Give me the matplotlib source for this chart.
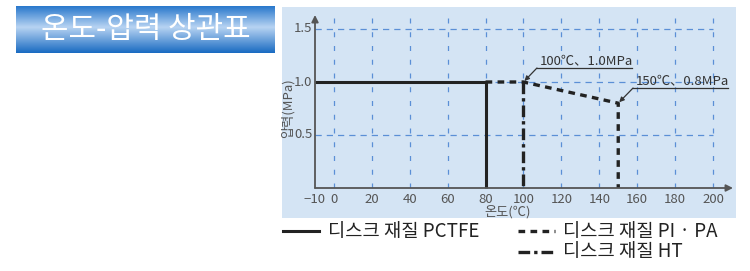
import matplotlib.pyplot as plt
import numpy as np

plt.rcParams['font.family'] = ['Noto Sans CJK KR', 'DejaVu Sans']

# data
temp_pctfe = [-10, 80, 80]
press_pctfe = [1.0, 1.0, 0.0]
temp_pipa = [80, 100, 150, 150]
press_pipa = [1.0, 1.0, 0.8, 0.0]
temp_ht = [100, 100]
press_ht = [1.0, 0.0]
x_ticks = [-10, 0, 20, 40, 60, 80, 100, 120, 140, 160, 180, 200]
y_ticks = [0.5, 1.0, 1.5]
y_ticklabels = ["0.5", "1.0", "1.5"]
series_labels = ["디스크 재질 PCTFE", "디스크 재질 PI · PA", "디스크 재질 HT"]
notes = [("100℃、1.0MPa", 100, 1.0), ("150℃、0.8MPa", 150, 0.8)]

W, H = 750, 271
fig = plt.figure(figsize=(7.5, 2.71), dpi=100)

def fx(px):
    return px / W

def fy(py):
    return 1 - py / H

# light blue panel
bg = fig.add_axes([fx(282), fy(218), fx(736) - fx(282), fy(7) - fy(218)], zorder=-5)
bg.set_facecolor('#d4e4f4')
bg.set_xticks([])
bg.set_yticks([])
for s in bg.spines.values():
    s.set_visible(False)

# title box with gradient
tax = fig.add_axes([fx(16), fy(53), fx(275) - fx(16), fy(6) - fy(53)])
t = np.linspace(0, 1, 100)
top = np.array([0.16, 0.47, 0.80])
mid = np.array([0.72, 0.83, 0.95])
bot = np.array([0.10, 0.42, 0.76])
cols = []
for v in t:
    if v < 0.45:
        a = v / 0.45
        cols.append(top * (1 - a) + mid * a)
    else:
        a = (v - 0.45) / 0.55
        cols.append(mid * (1 - a) + bot * a)
grad = np.array(cols)[:, None, :]
tax.imshow(grad, aspect='auto', extent=[0, 1, 0, 1])
tax.set_axis_off()
tax.text(0.5, 0.5, "온도-압력 상관표", color='white', fontsize=21.5, ha='center', va='center',
         fontweight='light')

# chart axes
x0, x1 = -10, 200 + (733 - 713) / 1.895
y1 = (188 - 15) / 106.0
ax = fig.add_axes([fx(315), fy(188), fx(733) - fx(315), fy(15) - fy(188)])
ax.set_xlim(x0, x1)
ax.set_ylim(0, y1)
ax.set_facecolor('none')
for s in ax.spines.values():
    s.set_visible(False)
ax.set_xticks([])
ax.set_yticks([])

grid_c = '#5b8fd6'
ax.vlines([v for v in x_ticks if v >= 0], 0, y1, colors=grid_c, linestyles=(0, (4, 7)), lw=0.9)
ax.hlines(y_ticks, -10, 200, colors=grid_c, linestyles=(0, (5, 4)), lw=0.9)

# axes arrows
ax.annotate('', xy=(x1, 0), xytext=(-10, 0),
            arrowprops=dict(arrowstyle='-|>', color='#555555', lw=1.3, mutation_scale=10,
                            shrinkA=0, shrinkB=0), annotation_clip=False)
ax.annotate('', xy=(-10, y1), xytext=(-10, 0),
            arrowprops=dict(arrowstyle='-|>', color='#555555', lw=1.3, mutation_scale=10,
                            shrinkA=0, shrinkB=0), annotation_clip=False)

# series
ax.plot(temp_pctfe, press_pctfe, color='#222222', lw=2.2, solid_capstyle='butt', clip_on=False)
ax.plot(temp_pipa, press_pipa, color='#222222', lw=2.4, linestyle=(0, (2, 1.6)), clip_on=False)
ax.plot(temp_ht, press_ht, color='#222222', lw=2.4, linestyle=(0, (3.5, 1.2, 1, 1.2)), clip_on=False)

# tick labels
lab_c = '#555555'
for v in x_ticks:
    ax.text(v, -0.05, str(v).replace('-', '−'), ha='center', va='top', fontsize=9.5, color=lab_c)
for v, s in zip(y_ticks, y_ticklabels):
    ax.text(-11.5, v, s, ha='right', va='center', fontsize=9.5, color=lab_c)

fig.text(fx(508), fy(212), "온도(℃)", ha='center', va='center', fontsize=9.5, color=lab_c)
fig.text(fx(288), fy(108), "압력(MPa)", ha='center', va='center', fontsize=9.5, color=lab_c, rotation=90)

# annotations
note_pos = [(107.1, 1.132, 157.3), (157.8, 0.943, 207.9)]
for (txt, px, py), (ux, uy, ux2) in zip(notes, note_pos):
    ax.plot([ux, ux2], [uy, uy], color='#333333', lw=0.9, clip_on=False)
    ax.annotate('', xy=(px, py), xytext=(ux, uy),
                arrowprops=dict(arrowstyle='-|>', color='#333333', lw=0.9, mutation_scale=7,
                                shrinkA=0, shrinkB=1), annotation_clip=False)
    ax.text(ux + 1.5, uy + 0.01, txt, ha='left', va='bottom', fontsize=9.5, color='#333333')

# legend
fig.add_artist(plt.Line2D([fx(283), fx(319)], [fy(231), fy(231)], color='#222222', lw=2.2))
fig.add_artist(plt.Line2D([fx(518), fx(555)], [fy(231), fy(231)], color='#222222', lw=2.4,
                          linestyle=(0, (2, 1.6))))
fig.add_artist(plt.Line2D([fx(518), fx(555)], [fy(252), fy(252)], color='#222222', lw=2.4,
                          linestyle=(0, (3.5, 1.2, 1, 1.2))))
fig.text(fx(328), fy(231), series_labels[0], ha='left', va='center', fontsize=13.5, color='#222222')
fig.text(fx(563), fy(231), series_labels[1], ha='left', va='center', fontsize=13.5, color='#222222')
fig.text(fx(563), fy(252), series_labels[2], ha='left', va='center', fontsize=13.5, color='#222222')

fig.savefig('out.png', dpi=100)
